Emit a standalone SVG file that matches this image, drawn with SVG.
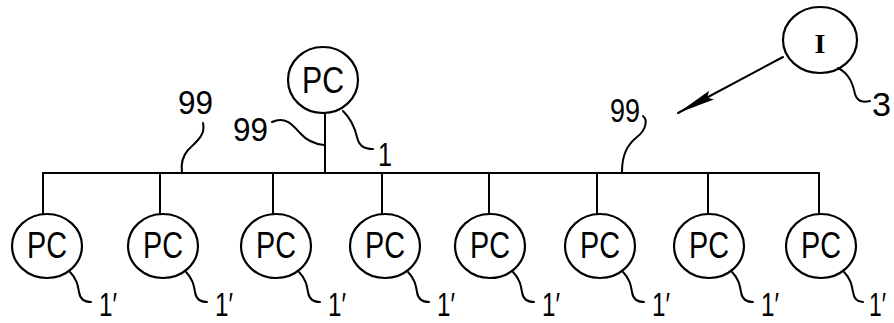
<svg xmlns="http://www.w3.org/2000/svg" width="894" height="323" viewBox="0 0 894 323">
<style>
.n{fill:#fff;stroke:#000;stroke-width:2.2}
.l{fill:none;stroke:#000;stroke-width:2;stroke-linecap:round;stroke-linejoin:round}
.t{font-family:"Liberation Sans",Arial,sans-serif;font-size:36px;fill:#000;text-anchor:middle}
.d{font-family:"Liberation Sans",Arial,sans-serif;font-size:34px;fill:#000}
</style>
<defs>
<marker id="ah" markerWidth="40" markerHeight="14" refX="38" refY="7" orient="auto" markerUnits="userSpaceOnUse">
<path d="M0,2 L38,7 L0,12 L5,7 Z" fill="#000"/>
</marker>
</defs>
<g id="connectors">
<path class="l" d="M43,173 H819"/>
<path class="l" d="M325,113 V173"/>
<path class="l" d="M43,173 V214 M160,173 V214 M273,173 V214 M382,173 V214 M489,173 V214 M597,173 V214 M708,173 V214 M819,173 V214"/>
<path class="l" d="M783,57 L678,113" marker-end="url(#ah)"/>
</g>
<g id="pc-main">
<ellipse class="n" cx="323" cy="80" rx="35" ry="33"/>
<text class="t" x="323" y="93" textLength="42" lengthAdjust="spacingAndGlyphs">PC</text>
</g>
<g id="input">
<ellipse class="n" cx="820" cy="40" rx="37" ry="33"/>
<text x="820" y="53" style="font-family:'Liberation Serif','Times New Roman',serif;font-size:28px;font-weight:bold;text-anchor:middle">I</text>
</g>
<g id="pc1"><ellipse class="n" cx="47" cy="246" rx="35" ry="32"/><text class="t" x="47" y="258" textLength="40" lengthAdjust="spacingAndGlyphs">PC</text></g>
<g id="pc2"><ellipse class="n" cx="163" cy="246" rx="35" ry="32"/><text class="t" x="163" y="258" textLength="40" lengthAdjust="spacingAndGlyphs">PC</text></g>
<g id="pc3"><ellipse class="n" cx="276" cy="246" rx="35" ry="32"/><text class="t" x="276" y="258" textLength="40" lengthAdjust="spacingAndGlyphs">PC</text></g>
<g id="pc4"><ellipse class="n" cx="385" cy="246" rx="35" ry="32"/><text class="t" x="385" y="258" textLength="40" lengthAdjust="spacingAndGlyphs">PC</text></g>
<g id="pc5"><ellipse class="n" cx="490" cy="246" rx="35" ry="32"/><text class="t" x="490" y="258" textLength="40" lengthAdjust="spacingAndGlyphs">PC</text></g>
<g id="pc6"><ellipse class="n" cx="600" cy="246" rx="35" ry="32"/><text class="t" x="600" y="258" textLength="40" lengthAdjust="spacingAndGlyphs">PC</text></g>
<g id="pc7"><ellipse class="n" cx="709" cy="246" rx="35" ry="32"/><text class="t" x="709" y="258" textLength="40" lengthAdjust="spacingAndGlyphs">PC</text></g>
<g id="pc8"><ellipse class="n" cx="821" cy="246" rx="35" ry="32"/><text class="t" x="821" y="258" textLength="40" lengthAdjust="spacingAndGlyphs">PC</text></g>
<g id="labels">
<path class="l" d="M203,123 C206,135 196,142 188,150 C182,157 181,165 182,172"/>
<text class="d" x="178" y="114" textLength="35" lengthAdjust="spacingAndGlyphs">99</text>
<path class="l" d="M272,122 C285,116 292,124 300,133 C307,141 314,144 324,145"/>
<text class="d" x="233" y="141" textLength="35" lengthAdjust="spacingAndGlyphs">99</text>
<path class="l" d="M343,111 C352,120 355,128 357,137 C359,146 364,149 373,149"/>
<text class="d" x="378" y="166" textLength="14" lengthAdjust="spacingAndGlyphs">1</text>
<path class="l" d="M643,116 C648,120 646,130 637,137 C627,145 622,155 622,172"/>
<text class="d" x="610" y="122" textLength="30" lengthAdjust="spacingAndGlyphs">99</text>
<path class="l" d="M838,68 C850,74 853,85 855,94 C857,101 862,103 870,101"/>
<text class="d" x="872" y="116" textLength="19" lengthAdjust="spacingAndGlyphs">3</text>
</g>
<g id="sublabels">
<path class="l" d="M70,272 C77,279 78,286 79,292 C80,299 84,302 91,302"/><text class="d" x="99" y="316" textLength="18" lengthAdjust="spacingAndGlyphs">1′</text>
<path class="l" d="M186,272 C193,279 194,286 195,292 C196,299 200,302 207,302"/><text class="d" x="215" y="316" textLength="18" lengthAdjust="spacingAndGlyphs">1′</text>
<path class="l" d="M299,272 C306,279 307,286 308,292 C309,299 313,302 320,302"/><text class="d" x="328" y="316" textLength="18" lengthAdjust="spacingAndGlyphs">1′</text>
<path class="l" d="M408,272 C415,279 416,286 417,292 C418,299 422,302 429,302"/><text class="d" x="437" y="316" textLength="18" lengthAdjust="spacingAndGlyphs">1′</text>
<path class="l" d="M513,272 C520,279 521,286 522,292 C523,299 527,302 534,302"/><text class="d" x="542" y="316" textLength="18" lengthAdjust="spacingAndGlyphs">1′</text>
<path class="l" d="M623,272 C630,279 631,286 632,292 C633,299 637,302 644,302"/><text class="d" x="652" y="316" textLength="18" lengthAdjust="spacingAndGlyphs">1′</text>
<path class="l" d="M732,272 C739,279 740,286 741,292 C742,299 746,302 753,302"/><text class="d" x="761" y="316" textLength="18" lengthAdjust="spacingAndGlyphs">1′</text>
<path class="l" d="M844,272 C851,279 852,286 853,292 C854,299 857,302 863,302"/><text class="d" x="869" y="316" textLength="17" lengthAdjust="spacingAndGlyphs">1′</text>
</g>
</svg>
